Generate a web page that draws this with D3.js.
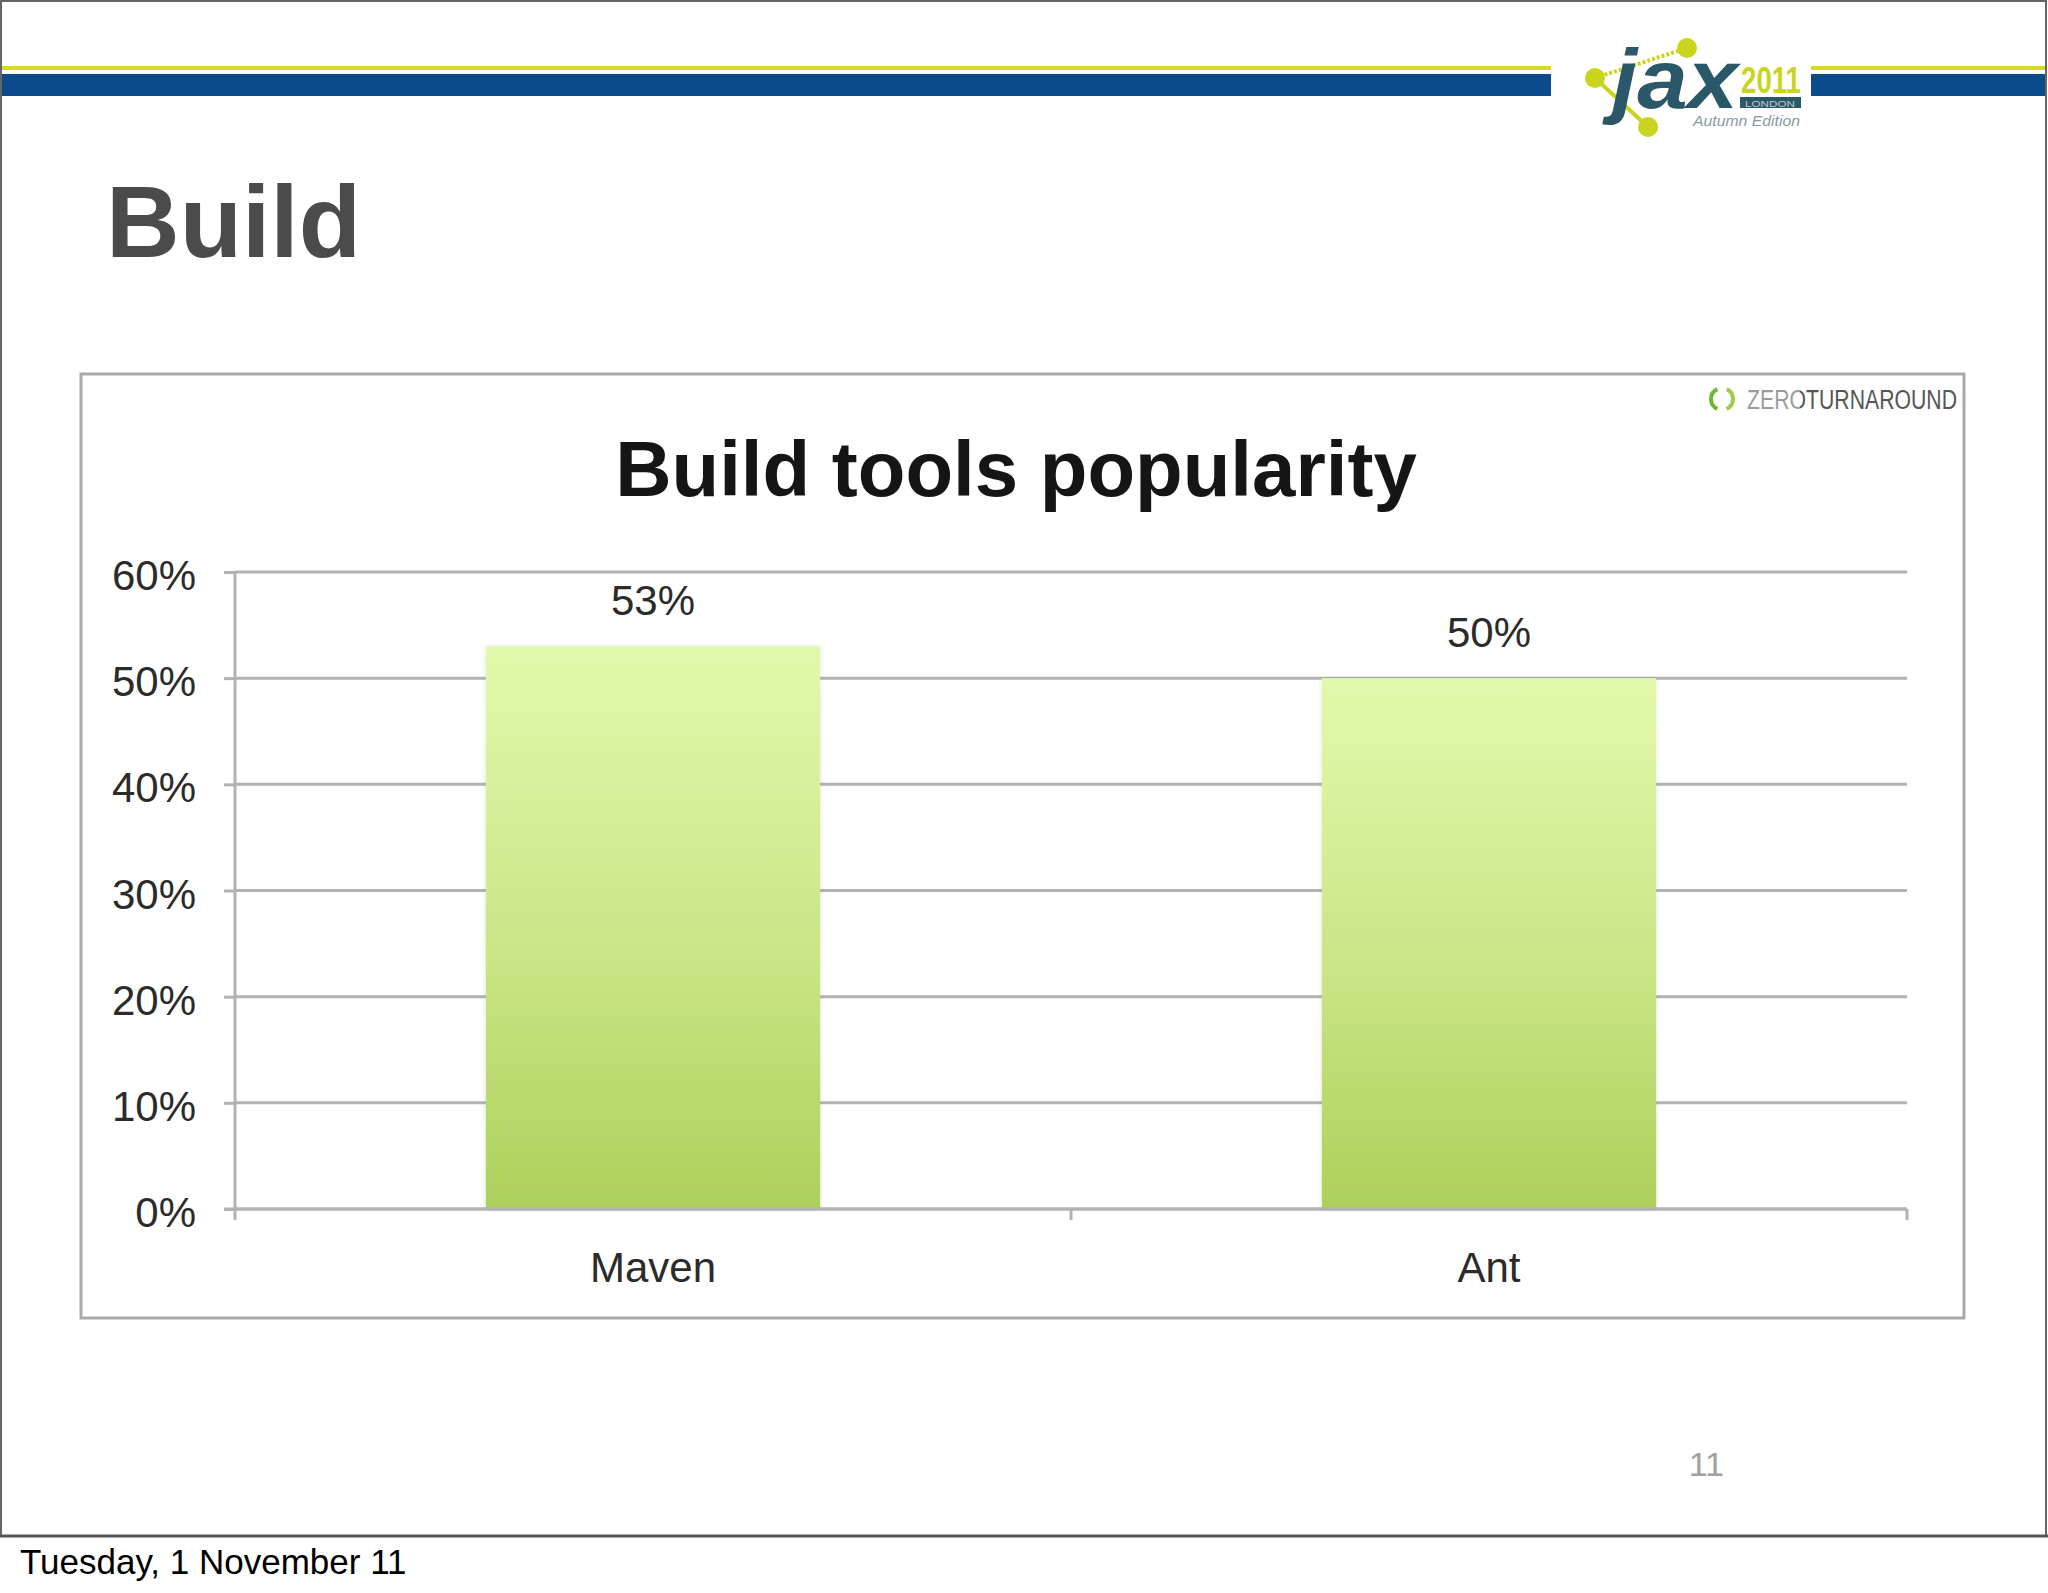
<!DOCTYPE html>
<html>
<head>
<meta charset="utf-8">
<script src="https://cdn.jsdelivr.net/npm/d3@7/dist/d3.min.js"></script>
<style>
  html, body { margin: 0; padding: 0; background: #fff; }
  svg { display: block; }
  text { font-family: "Liberation Sans", Arial, Helvetica, sans-serif; }
</style>
</head>
<body>
<svg id="slide" width="2048" height="1593"></svg>
<script>
// ---- data ----
const categories = ["Maven", "Ant"];
const shares = [53, 50];
const yTickValues = [0, 10, 20, 30, 40, 50, 60];
const yTickLabels = ["0%", "10%", "20%", "30%", "40%", "50%", "60%"];
const slideTitle = "Build";
const chartTitle = "Build tools popularity";
const pageNumber = "11";
const footerDate = "Tuesday, 1 November 11";

const svg = d3.select("#slide");
const defs = svg.append("defs");

// ---- slide frame ----
svg.append("rect").attr("x", 1).attr("y", 1).attr("width", 2045).attr("height", 1535)
  .attr("fill", "#fff").attr("stroke", "#666").attr("stroke-width", 2);
svg.append("line").attr("x1", 0).attr("x2", 2048).attr("y1", 1536).attr("y2", 1536)
  .attr("stroke", "#555").attr("stroke-width", 3);

// ---- header stripes ----
const stripes = svg.append("g");
[[2, 1551], [1811, 2045]].forEach(([a, b]) => {
  stripes.append("rect").attr("x", a).attr("y", 66).attr("width", b - a).attr("height", 4).attr("fill", "#d6d823");
  stripes.append("rect").attr("x", a).attr("y", 74).attr("width", b - a).attr("height", 22).attr("fill", "#0b4a8b");
});

// ---- JAX logo ----
const jax = svg.append("g");
const lime = "#c9d41c", teal = "#2b5868";
jax.append("line").attr("x1", 1595).attr("y1", 78).attr("x2", 1687).attr("y2", 48)
  .attr("stroke", lime).attr("stroke-width", 4).attr("stroke-dasharray", "3,2");
jax.append("line").attr("x1", 1595).attr("y1", 78).attr("x2", 1648).attr("y2", 127)
  .attr("stroke", lime).attr("stroke-width", 4);
[[1595, 78], [1687, 48], [1648, 127]].forEach(([cx, cy]) =>
  jax.append("circle").attr("cx", cx).attr("cy", cy).attr("r", 10).attr("fill", lime));
jax.append("text").attr("x", 1612).attr("y", 108).attr("font-size", 84).attr("font-weight", "bold")
  .attr("font-style", "italic").attr("fill", teal).attr("textLength", 126).attr("lengthAdjust", "spacingAndGlyphs")
  .text("jax");
jax.append("text").attr("x", 1741).attr("y", 93).attr("font-size", 36).attr("font-weight", "bold")
  .attr("fill", lime).attr("textLength", 60).attr("lengthAdjust", "spacingAndGlyphs").text("2011");
jax.append("rect").attr("x", 1740).attr("y", 97).attr("width", 61).attr("height", 11).attr("fill", teal);
jax.append("text").attr("x", 1770).attr("y", 106.5).attr("text-anchor", "middle").attr("font-size", 9)
  .attr("fill", "#b9cbd0").attr("textLength", 50).attr("lengthAdjust", "spacingAndGlyphs").text("LONDON");
jax.append("text").attr("x", 1693).attr("y", 126).attr("font-size", 14).attr("font-style", "italic")
  .attr("fill", "#8a9aa2").attr("textLength", 107).attr("lengthAdjust", "spacingAndGlyphs").text("Autumn Edition");

// ---- slide title ----
svg.append("text").attr("x", 106).attr("y", 257).attr("font-size", 102).attr("font-weight", "bold")
  .attr("fill", "#4b4b4b").text(slideTitle);

// ---- chart frame ----
svg.append("rect").attr("x", 81).attr("y", 374).attr("width", 1883).attr("height", 944)
  .attr("fill", "#fff").attr("stroke", "#a9a9a9").attr("stroke-width", 3);

// ---- ZEROTURNAROUND logo ----
const zt = svg.append("g");
zt.append("path").attr("d", d3.arc()({innerRadius: 9, outerRadius: 13, startAngle: -2.7, endAngle: -0.45}))
  .attr("transform", "translate(1722,399)").attr("fill", "#6fb832");
zt.append("path").attr("d", d3.arc()({innerRadius: 9, outerRadius: 13, startAngle: 0.45, endAngle: 2.7}))
  .attr("transform", "translate(1722,399)").attr("fill", "#9ccc4a");
const ztGrad = defs.append("linearGradient").attr("id", "ztGrad").attr("gradientUnits", "userSpaceOnUse")
  .attr("x1", 1747).attr("x2", 1957).attr("y1", 0).attr("y2", 0);
ztGrad.append("stop").attr("offset", 0.252).attr("stop-color", "#9a9a9a");
ztGrad.append("stop").attr("offset", 0.252).attr("stop-color", "#555");
zt.append("text").attr("x", 1747).attr("y", 409).attr("font-size", 27).attr("fill", "url(#ztGrad)")
  .attr("textLength", 210).attr("lengthAdjust", "spacingAndGlyphs").text("ZEROTURNAROUND");

// ---- chart title ----
svg.append("text").attr("x", 1016).attr("y", 496).attr("text-anchor", "middle")
  .attr("font-size", 78).attr("font-weight", "bold").attr("fill", "#151515").text(chartTitle);

// ---- scales ----
const plotLeft = 235, plotRight = 1907, plotTop = 572, plotBottom = 1209;
const x = d3.scaleBand().domain(categories).range([plotLeft, plotRight]).paddingInner(0.6).paddingOuter(0.3);
const y = d3.scaleLinear().domain([0, 60]).range([plotBottom, plotTop]);

const gridColor = "#b2b2b2";

// gridlines + y ticks
const yAxis = d3.axisLeft(y).tickValues(yTickValues).tickSize(11)
  .tickFormat((d, i) => yTickLabels[i]).tickPadding(28);
const gy = svg.append("g").attr("transform", `translate(${plotLeft},0)`).call(yAxis);
gy.select(".domain").remove();
gy.selectAll(".tick line").attr("stroke", gridColor).attr("stroke-width", 3);
gy.selectAll(".tick text").attr("font-size", 42).attr("fill", "#2b2b2b")
  .attr("font-family", "'Liberation Sans', Arial, sans-serif").attr("dy", "0.42em");

svg.append("g").selectAll("line").data(yTickValues).join("line")
  .attr("x1", plotLeft).attr("x2", plotRight)
  .attr("y1", d => y(d)).attr("y2", d => y(d))
  .attr("stroke", gridColor).attr("stroke-width", 3);

// bar gradient
const grad = defs.append("linearGradient").attr("id", "barGrad").attr("x1", 0).attr("y1", 0).attr("x2", 0).attr("y2", 1);
grad.append("stop").attr("offset", "0%").attr("stop-color", "#e2f9ad");
grad.append("stop").attr("offset", "55%").attr("stop-color", "#c9e585");
grad.append("stop").attr("offset", "100%").attr("stop-color", "#acd05b");
const shadow = defs.append("filter").attr("id", "barShadow").attr("x", "-5%").attr("y", "-5%").attr("width", "110%").attr("height", "110%");
shadow.append("feDropShadow").attr("dx", 0).attr("dy", 0).attr("stdDeviation", 2).attr("flood-color", "#000").attr("flood-opacity", 0.12);

// bars
svg.append("g").selectAll("rect").data(categories).join("rect")
  .attr("x", d => x(d)).attr("width", x.bandwidth())
  .attr("y", (d, i) => y(shares[i])).attr("height", (d, i) => y(0) - y(shares[i]))
  .attr("fill", "url(#barGrad)").attr("filter", "url(#barShadow)");

// y axis line
svg.append("line").attr("x1", plotLeft).attr("x2", plotLeft).attr("y1", plotTop).attr("y2", plotBottom + 11)
  .attr("stroke", gridColor).attr("stroke-width", 3);

// x axis
const xAxisLine = svg.append("g");
xAxisLine.append("line").attr("x1", plotLeft - 11).attr("x2", plotRight).attr("y1", plotBottom).attr("y2", plotBottom)
  .attr("stroke", gridColor).attr("stroke-width", 3);
const boundaries = categories.map(c => x(c) - x.step() * x.paddingInner() / 2 + x.step()); // right edge of each band
xAxisLine.selectAll(".xt").data(boundaries).join("line").attr("class", "xt")
  .attr("x1", d => d).attr("x2", d => d).attr("y1", plotBottom).attr("y2", plotBottom + 11)
  .attr("stroke", gridColor).attr("stroke-width", 3);

const xAxis = d3.axisBottom(x).tickSize(0).tickPadding(0);
const gx = svg.append("g").attr("transform", `translate(0,${plotBottom})`).call(xAxis);
gx.select(".domain").remove();
gx.selectAll(".tick text").attr("font-size", 42).attr("fill", "#2b2b2b")
  .attr("font-family", "'Liberation Sans', Arial, sans-serif").attr("dy", 0).attr("y", 73);

// value labels
svg.append("g").selectAll("text").data(categories).join("text")
  .attr("x", d => x(d) + x.bandwidth() / 2)
  .attr("y", (d, i) => y(shares[i]) - 31)
  .attr("text-anchor", "middle").attr("font-size", 42).attr("fill", "#2b2b2b")
  .text((d, i) => shares[i] + "%");

// page number
svg.append("text").attr("x", 1724).attr("y", 1476).attr("text-anchor", "end").attr("font-size", 34)
  .attr("fill", "#a0a0a0").text(pageNumber);

// footer
svg.append("text").attr("x", 20).attr("y", 1574).attr("font-size", 35).attr("fill", "#000").text(footerDate);
</script>
</body>
</html>
